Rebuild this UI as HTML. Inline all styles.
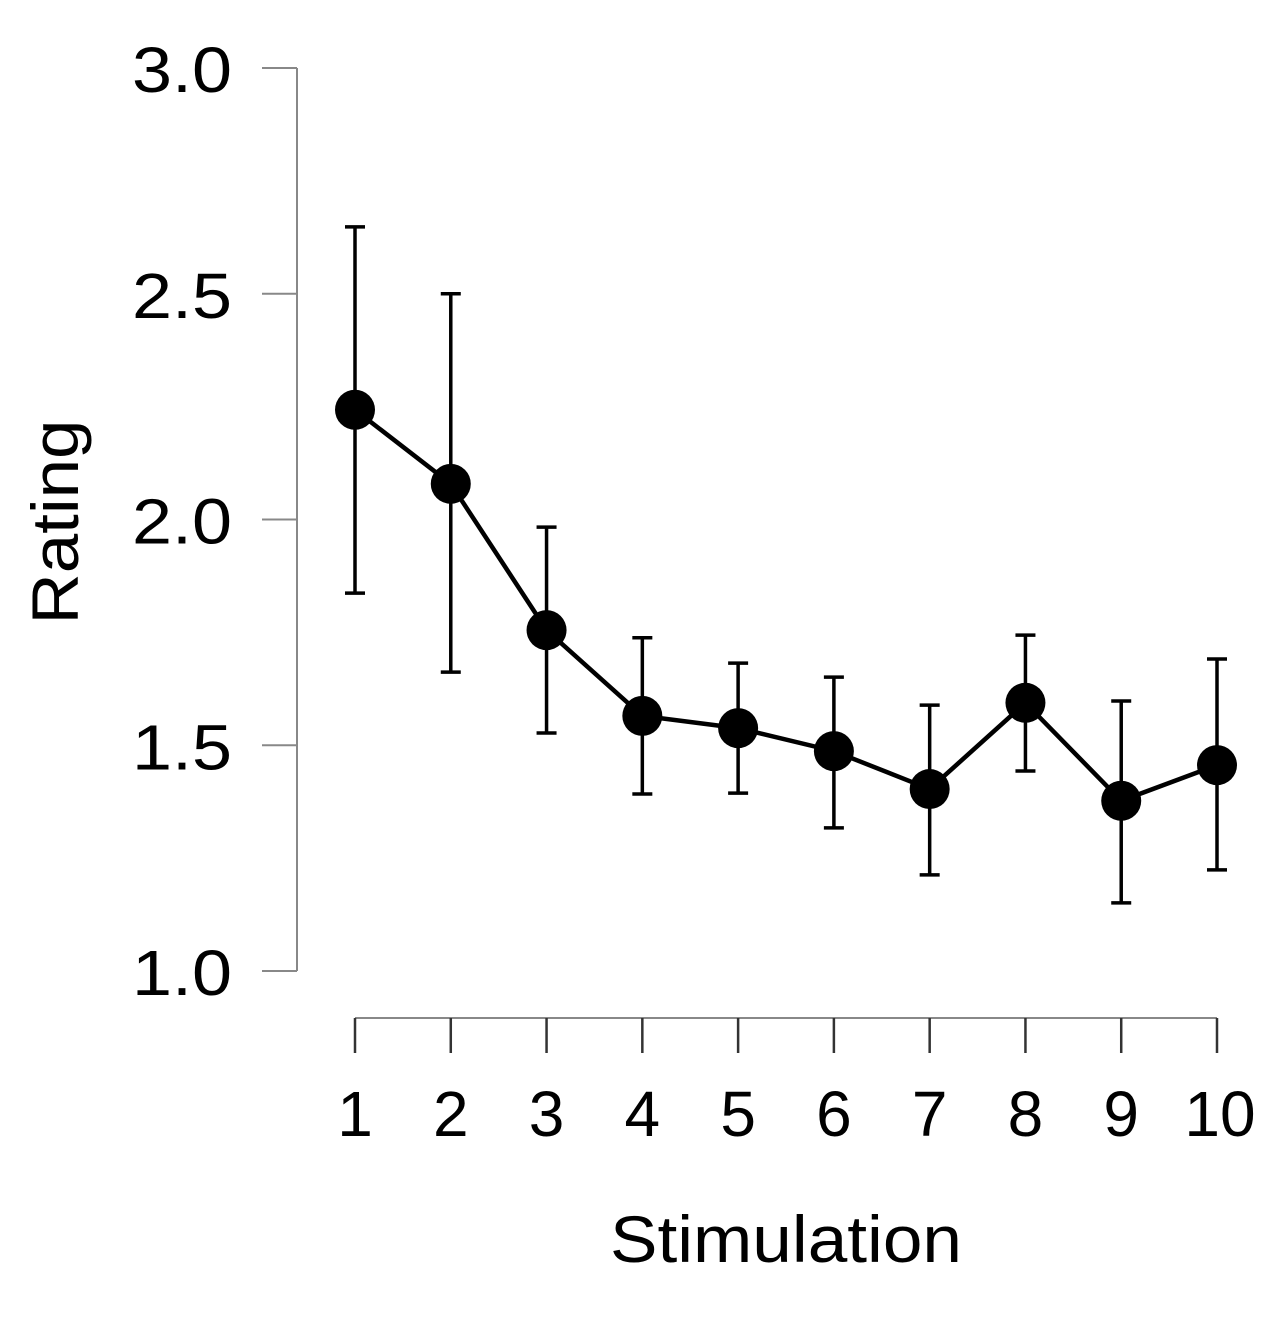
<!DOCTYPE html>
<html><head><meta charset="utf-8"><style>
html,body{margin:0;padding:0;background:#fff}
svg{display:block;font-family:"Liberation Sans",Arial,sans-serif}
</style></head><body>
<svg id="chart" width="1288" height="1328" viewBox="0 0 1288 1328" xmlns="http://www.w3.org/2000/svg">
<g id="axes"></g><g id="marks"></g>
<text x="0" y="0" transform="translate(78,522) rotate(-90)" font-size="66" text-anchor="middle" textLength="205" lengthAdjust="spacingAndGlyphs" fill="#000">Rating</text>
<text x="786" y="1262" font-size="66" text-anchor="middle" textLength="352" lengthAdjust="spacingAndGlyphs" fill="#000">Stimulation</text>
</svg>
<script>
const categories=[1,2,3,4,5,6,7,8,9,10];
const means=[2.243,2.079,1.755,1.565,1.538,1.487,1.403,1.594,1.377,1.456];
const upper=[2.648,2.5,1.983,1.738,1.682,1.651,1.589,1.744,1.598,1.691];
const lower=[1.837,1.662,1.527,1.392,1.394,1.317,1.213,1.443,1.151,1.224];
const yTicks=["1.0","1.5","2.0","2.5","3.0"];
const NS="http://www.w3.org/2000/svg";
function y(v){return 971-(v-1)*(903/2);}
function x(c){return 355+(c-1)*(862/9);}
function mk(tag,attrs,parent){const e=document.createElementNS(NS,tag);for(const k in attrs)e.setAttribute(k,attrs[k]);parent.appendChild(e);return e;}
const axes=document.getElementById('axes'),marks=document.getElementById('marks');
let a=mk('line',{x1:297,x2:297,y1:y(3),y2:y(1),stroke:'#888','stroke-width':2},axes);


yTicks.forEach(t=>{
 const v=parseFloat(t);
 let l=mk('line',{x1:262,x2:297,y1:y(v),y2:y(v),stroke:'#888','stroke-width':2},axes);
 
 
 let tx=mk('text',{x:232,y:y(v)+24,'font-size':64,'text-anchor':'end',textLength:100,lengthAdjust:'spacingAndGlyphs',fill:'#000'},axes);
 tx.textContent=t;
 
 
});
let xa=mk('line',{x1:x(1),x2:x(10),y1:1018,y2:1018,stroke:'#888','stroke-width':2},axes);


categories.forEach(c=>{
 let l=mk('line',{x1:x(c),x2:x(c),y1:1018,y2:1053,stroke:'#333','stroke-width':2.5},axes);
 
 
 let tx=mk('text',{x:x(c)+(c===10?3:0),y:1136,'font-size':64,'text-anchor':'middle',fill:'#000'},axes);
 tx.textContent=c;
 
 
});
categories.forEach((c,i)=>{
 const g=mk('g',{},marks);
 
 
 mk('line',{x1:x(c),x2:x(c),y1:y(upper[i]),y2:y(lower[i]),stroke:'#000','stroke-width':3.5},g);
 mk('line',{x1:x(c)-10,x2:x(c)+10,y1:y(upper[i]),y2:y(upper[i]),stroke:'#000','stroke-width':3.5},g);
 mk('line',{x1:x(c)-10,x2:x(c)+10,y1:y(lower[i]),y2:y(lower[i]),stroke:'#000','stroke-width':3.5},g);
});
const pl=mk('polyline',{points:categories.map((c,i)=>x(c)+','+y(means[i])).join(' '),fill:'none',stroke:'#000','stroke-width':4.5},marks);


categories.forEach((c,i)=>{
 const p=mk('circle',{cx:x(c),cy:y(means[i]),r:20,fill:'#000'},marks);
 
 
});
</script>
</body></html>
